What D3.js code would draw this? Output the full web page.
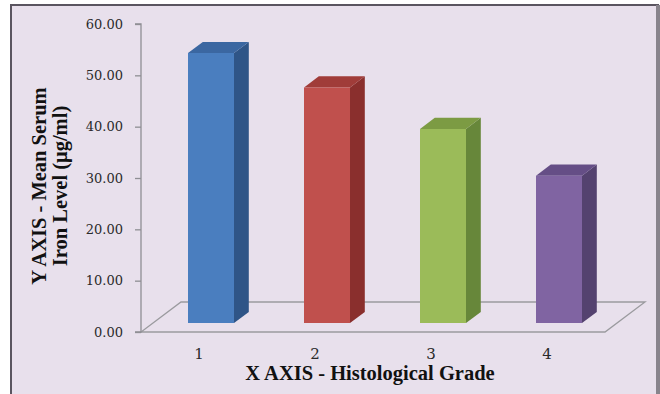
<!DOCTYPE html>
<html>
<head>
<meta charset="utf-8">
<script src="https://cdn.jsdelivr.net/npm/d3@7"></script>
<style>
  html, body { margin: 0; padding: 0; background: #ffffff; }
  svg { display: block; }
</style>
</head>
<body>
<svg id="chart" width="660" height="394"></svg>
<script>
// Mean serum iron level by histological grade
const categories = ["1", "2", "3", "4"];
const values = [52.6, 45.9, 37.8, 28.7];
const yTicks = [0, 10, 20, 30, 40, 50, 60];
const frontColors = ["#4a7ebf", "#c0504d", "#9bbb59", "#8064a2"];
const sideColors = ["#2f5587", "#8a2f2d", "#67873a", "#54426f"];
const topColors = ["#3b67a1", "#a03c39", "#7c9b43", "#654e86"];

const svg = d3.select("#chart");

// panel background and frame
svg.append("rect").attr("x", 11).attr("y", 5).attr("width", 647).attr("height", 395)
  .attr("fill", "#e8e0ec");
svg.append("path").attr("d", "M11,400 V5 H658 V400")
  .attr("fill", "none").attr("stroke", "#5a5560").attr("stroke-width", 2);
svg.append("line").attr("x1", 658).attr("x2", 658).attr("y1", 5).attr("y2", 394)
  .attr("stroke", "#88848c").attr("stroke-width", 4);

// plot geometry
const left = 141, right = 605, floorDX = 40, floorDY = 30;
const x = d3.scaleBand().domain(categories).range([left, right]).paddingInner(0).paddingOuter(0);
const y = d3.scaleLinear().domain([0, 60]).range([332, 24]);

// projection of (screen x, value, depth 0..1) for the oblique 3D view
const proj = (sx, v, d) => [sx + d * floorDX, y(v) - d * floorDY];

// floor outline
const floorPts = [proj(left, 0, 0), proj(right, 0, 0), proj(right, 0, 1), proj(left, 0, 1)];
svg.append("path")
  .attr("d", d3.line()(floorPts) + "Z")
  .attr("fill", "none").attr("stroke", "#9a9a9e").attr("stroke-width", 1.3);

// y axis
const yAxis = d3.axisLeft(y).tickValues(yTicks).tickFormat(d3.format(".2f")).tickSize(6).tickPadding(12);
const gy = svg.append("g").attr("transform", `translate(${left},0)`).call(yAxis);
gy.select(".domain").attr("stroke", "#8f8f94").attr("stroke-width", 1.3).attr("d", `M-6,${y(60)}H0V${y(0)}H-6`);
gy.selectAll(".tick line").attr("stroke", "#8f8f94").attr("stroke-width", 1.3);
gy.selectAll(".tick text")
  .attr("font-family", "DejaVu Serif, serif").attr("font-size", 13)
  .attr("fill", "#2a2a2a");

// x axis category labels
const xAxis = d3.axisBottom(x).tickSize(0).tickPadding(16);
const gx = svg.append("g").attr("transform", `translate(0,${y(0)})`).call(xAxis);
gx.select(".domain").remove();
gx.selectAll(".tick text")
  .attr("font-family", "DejaVu Serif, serif").attr("font-size", 15)
  .attr("fill", "#2a2a2a");

// bars (front face, side face, top face)
const barW = 46, d0 = 0.3, d1 = 0.67;
const bars = svg.append("g");
categories.forEach((c, i) => {
  const v = values[i];
  const x0 = x(c) + x.bandwidth() / 2 - barW / 2;
  const x1 = x0 + barW;
  const fbl = proj(x0, 0, d0), fbr = proj(x1, 0, d0), ftl = proj(x0, v, d0), ftr = proj(x1, v, d0);
  const bbr = proj(x1, 0, d1), btl = proj(x0, v, d1), btr = proj(x1, v, d1);
  const g = bars.append("g");
  g.append("path").attr("d", d3.line()([fbr, ftr, btr, bbr]) + "Z").attr("fill", sideColors[i]);
  g.append("path").attr("d", d3.line()([ftl, ftr, btr, btl]) + "Z").attr("fill", topColors[i]);
  g.append("path").attr("d", d3.line()([fbl, ftl, ftr, fbr]) + "Z").attr("fill", frontColors[i]);
});

// axis titles
svg.append("text")
  .attr("x", 370).attr("y", 380).attr("text-anchor", "middle")
  .attr("font-family", "Liberation Serif, serif").attr("font-size", 20.5).attr("font-weight", "bold")
  .attr("fill", "#111").text("X AXIS - Histological Grade");

const yt = svg.append("text")
  .attr("transform", "translate(46,186) rotate(-90)").attr("text-anchor", "middle")
  .attr("font-family", "Liberation Serif, serif").attr("font-size", 20.5).attr("font-weight", "bold")
  .attr("fill", "#111");
yt.append("tspan").attr("x", 0).attr("y", 0).text("Y AXIS - Mean Serum");
yt.append("tspan").attr("x", 0).attr("y", 21).text("Iron Level (μg/ml)");
</script>
</body>
</html>
